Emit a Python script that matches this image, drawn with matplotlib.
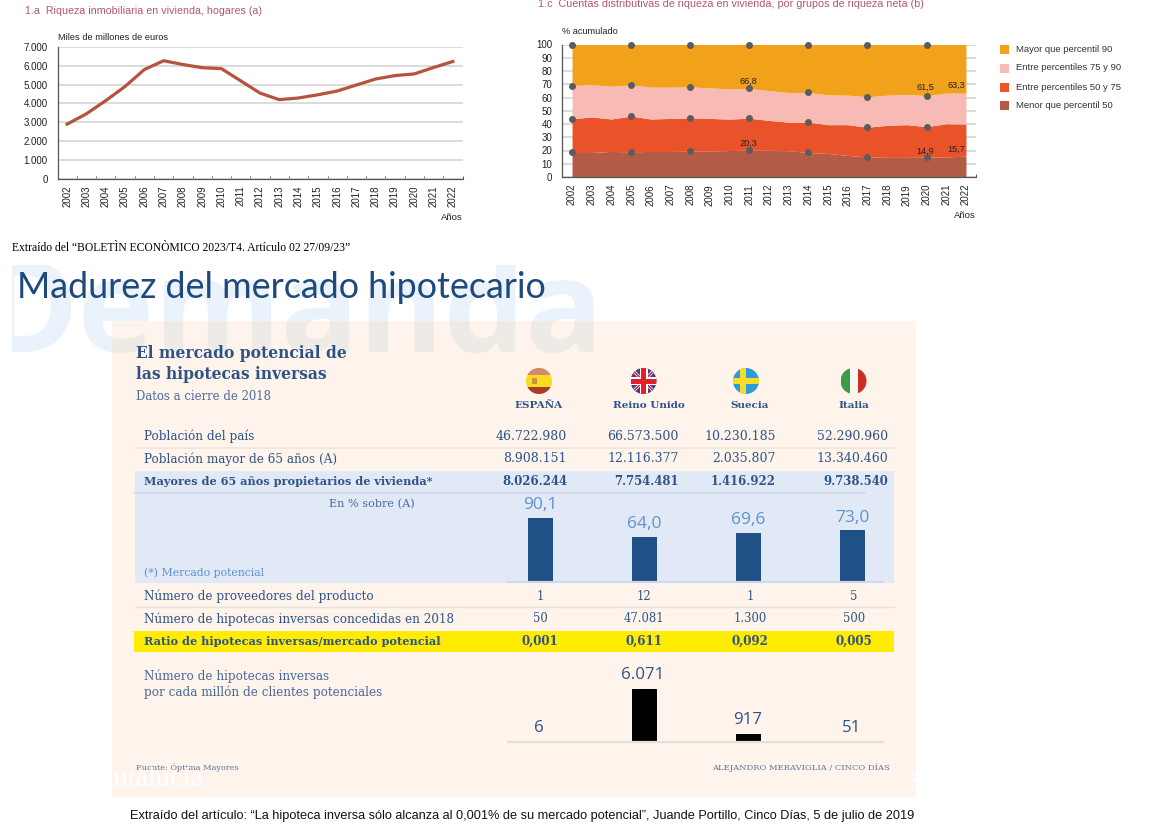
import matplotlib
matplotlib.use("Agg")
import matplotlib.pyplot as plt
from matplotlib.patches import Rectangle, Circle
from matplotlib.ticker import FuncFormatter

W, H = 1149, 827
SANS = "Liberation Sans"
SERIF = "DejaVu Serif"
HUM = "Open Sans"
NAVY = "#2F5488"
LBLUE = "#5E92CF"

years = [str(y) for y in range(2002, 2023)]
riqueza = [2900, 3450, 4150, 4900, 5800, 6270, 6070, 5900, 5850, 5200, 4550,
           4200, 4290, 4460, 4660, 4980, 5300, 5480, 5570, 5910, 6230]
p50 = [18.5, 18.5, 19.3, 19.0, 19.3, 19.2, 19.6, 19.6, 20.0, 20.3, 20.2,
       19.8, 18.5, 17.8, 16.3, 15.2, 14.8, 14.8, 14.9, 15.2, 15.7]
p75 = [44.0, 45.3, 43.8, 46.0, 43.8, 44.2, 44.7, 44.2, 43.7, 44.4, 42.7,
       41.4, 41.4, 39.5, 39.5, 37.6, 39.0, 39.5, 38.0, 40.2, 40.0]
p90 = [69.0, 69.7, 68.5, 69.5, 67.8, 67.8, 68.0, 67.3, 66.5, 66.8, 65.2,
       63.8, 63.8, 62.0, 61.8, 60.6, 61.8, 62.3, 61.5, 63.3, 63.3]
p100 = [100.0] * 21
legend_labels = ["Mayor que percentil 90", "Entre percentiles 75 y 90",
                 "Entre percentiles 50 y 75", "Menor que percentil 50"]
legend_colors = ["#F2A11B", "#F7BAB5", "#EA5329", "#B25C47"]

countries = ["ESPAÑA", "Reino Unido", "Suecia", "Italia"]
poblacion = ["46.722.980", "66.573.500", "10.230.185", "52.290.960"]
mayores = ["8.908.151", "12.116.377", "2.035.807", "13.340.460"]
propietarios = ["8.026.244", "7.754.481", "1.416.922", "9.738.540"]
mercado_pct = [90.1, 64.0, 69.6, 73.0]
proveedores = ["1", "12", "1", "5"]
concedidas = ["50", "47.081", "1.300", "500"]
ratio = ["0,001", "0,611", "0,092", "0,005"]
por_millon = [6, 6071, 917, 51]

fig = plt.figure(figsize=(W / 100, H / 100), dpi=100, facecolor="white")


def axes_px(l, t, r, b, z=2):
    ax = fig.add_axes([l / W, 1 - b / H, (r - l) / W, (b - t) / H], zorder=z)
    ax.patch.set_alpha(0)
    return ax


def full(z):
    ax = axes_px(0, 0, W, H, z)
    ax.set_xlim(0, W)
    ax.set_ylim(H, 0)
    ax.axis("off")
    return ax


bg = full(0)
fg = full(5)


def T(x, y, s, size=7, color="#222222", ha="left", va="center", family=SANS, ax=fg, **kw):
    return ax.text(x, y, s, fontsize=size, color=color, ha=ha, va=va, family=family, **kw)


def clipped(text, x, y, w, h, ax):
    text.set_clip_on(True)
    text.set_clip_path(Rectangle((x, y), w, h, transform=ax.transData))


# ---------- top charts ----------
def band_axis(ax, ymax, step, fmt):
    ax.set_xlim(-0.5, 20.5)
    ax.set_ylim(0, ymax)
    for s in ("top", "right"):
        ax.spines[s].set_visible(False)
    for s in ("left", "bottom"):
        ax.spines[s].set_color("#555555")
        ax.spines[s].set_linewidth(0.9)
    ax.set_xticks(range(21))
    ax.set_xticklabels(years, rotation=90, fontsize=7, family=SANS, color="#222222")
    ax.tick_params(axis="x", length=0, pad=5)
    ax.set_xticks([i - 0.5 for i in range(22)], minor=True)
    ax.tick_params(axis="x", which="minor", length=2.5, width=0.7, direction="in", color="#555555")
    ax.set_yticks(range(0, ymax + 1, step))
    ax.yaxis.set_major_formatter(FuncFormatter(fmt))
    ax.tick_params(axis="y", length=0, pad=7, labelsize=7, labelcolor="#222222")
    for lb in ax.get_yticklabels():
        lb.set_family(SANS)
    ax.grid(axis="y", color="#D9D9D9", lw=1.3)
    ax.set_axisbelow(True)


axa = axes_px(57.5, 47, 462.5, 178.7)
band_axis(axa, 7000, 1000, lambda v, p: f"{int(v):,}".replace(",", "."))
axa.plot(range(21), riqueza, color="#B5533C", lw=2.3, solid_joinstyle="round")
T(25, 11, "1.a  Riqueza inmobiliaria en vivienda, hogares (a)", 7.7, "#B4566E")
T(58, 37.5, "Miles de millones de euros", 6.7)
T(463, 217, "Años", 6.8, ha="right")

axc = axes_px(562.2, 44.5, 975.8, 177)
band_axis(axc, 100, 10, lambda v, p: f"{int(v)}")
xs = list(range(21))
axc.fill_between(xs, 0, p50, color=legend_colors[3], lw=0, zorder=2)
axc.fill_between(xs, p50, p75, color=legend_colors[2], lw=0, zorder=2)
axc.fill_between(xs, p75, p90, color=legend_colors[1], lw=0, zorder=2)
axc.fill_between(xs, p90, p100, color=legend_colors[0], lw=0, zorder=2)
idx = list(range(0, 21, 3))
for serie in (p50, p75, p90, p100):
    axc.plot(idx, [serie[i] for i in idx], ls="none", marker="o", ms=4.0,
             color="#5C5C5C", clip_on=False, zorder=3)
T(538, 4, "1.c  Cuentas distributivas de riqueza en vivienda, por grupos de riqueza neta (b)", 7.75, "#B4566E")
T(561.5, 32, "% acumulado", 6.6)
T(976, 215, "Años", 6.8, ha="right")
for x, y, s in [(748, 81, "66,8"), (748, 143, "20,3"), (925, 87, "61,5"),
                (925, 151, "14,9"), (956, 85, "63,3"), (956, 149, "15,7")]:
    T(x, y, s, 6.6, ha="center")
for y, lab, col in zip([49, 68, 87, 105], legend_labels, legend_colors):
    fg.add_patch(Rectangle((1000, y - 4.5), 9, 9, color=col, lw=0))
    T(1015.5, y, lab, 6.8, "#333333")

T(12, 248, "Extraído del “BOLETÌN ECONÒMICO 2023/T4. Artículo 02 27/09/23”", 8.4, "black", family="Liberation Serif")

# ---------- panel ----------
bg.add_patch(Rectangle((112, 321), 804, 476, color="#FEF4EC", lw=0, zorder=1))
t1 = T(-18, 352, "Demanda", 93, "#EAF2FB", va="baseline", family=HUM, ax=bg, fontweight="bold", zorder=0.5)
clipped(t1, 12, 265, 700, 90, bg)
t2 = T(-18, 352, "Demanda", 93, "#EEEBE7", va="baseline", family=HUM, ax=bg, fontweight="bold", zorder=1.5)
clipped(t2, 112, 321, 804, 40, bg)
T(17, 288, "Madurez del mercado hipotecario", 25.8, "#1F497D", family="Lato", ax=bg, zorder=2)

bg.add_patch(Rectangle((135, 471), 759, 112, color="#E1E9F6", lw=0, zorder=2))
bg.add_patch(Rectangle((134, 631), 760, 21, color="#FFEC00", lw=0, zorder=2))
bg.plot([135, 894], [448, 448], color="#EFE3DD", lw=1.2, zorder=2)
bg.plot([135, 865], [493, 493], color="#CFD8EC", lw=1.2, zorder=3)
bg.plot([135, 894], [607, 607], color="#E6E2DE", lw=1.0, zorder=2)

T(136, 353.5, "El mercado potencial de", 11.2, "#2C5286", family=SERIF, fontweight="bold")
T(136, 374.5, "las hipotecas inversas", 11.2, "#2C5286", family=SERIF, fontweight="bold")
T(136, 397, "Datos a cierre de 2018", 8.4, "#4A6A98", family=SERIF)

centers = [539, 649, 750, 854]
for x, c in zip(centers, countries):
    T(x, 405.5, c, 7.5, NAVY, ha="center", family=SERIF, fontweight="bold")

rights = [567, 679, 776, 888]
rows = [(436.5, "Población del país", poblacion, False),
        (459, "Población mayor de 65 años (A)", mayores, False),
        (481.5, "Mayores de 65 años propietarios de vivienda*", propietarios, True)]
for y, lab, vals, bold in rows:
    w = "bold" if bold else "normal"
    T(144, y, lab, 8.15 if bold else 8.65, NAVY, family=SERIF, fontweight=w)
    for x, v in zip(rights, vals):
        T(x, y, v, 8.4 if bold else 9.0, NAVY, ha="right", family=SERIF, fontweight=w)
T(372, 504, "En % sobre (A)", 8.1, "#4A6A98", ha="center", family=SERIF)
T(144, 572.5, "(*) Mercado potencial", 7.8, LBLUE, family=SERIF)

rows2 = [(596.5, "Número de proveedores del producto", proveedores, False),
         (619, "Número de hipotecas inversas concedidas en 2018", concedidas, False),
         (641.5, "Ratio de hipotecas inversas/mercado potencial", ratio, True)]
vc = [540, 644, 750, 854]
for y, lab, vals, bold in rows2:
    w = "bold" if bold else "normal"
    T(144, y, lab, 8.15 if bold else 8.65, NAVY, family=SERIF, fontweight=w)
    for x, v in zip(vc, vals):
        T(x, y, v, 8.6 if bold else 8.4, NAVY, ha="center", family=SERIF, fontweight=w)
T(144, 676, "Número de hipotecas inversas", 8.65, "#4A6A98", family=SERIF)
T(144, 692.5, "por cada millón de clientes potenciales", 8.65, "#4A6A98", family=SERIF)


def bars_axes(top, bottom, ymax, values, color, base_color):
    ax = axes_px(508, top, 883, bottom, 3)
    ax.set_xlim((508 - 540) / 104, (883 - 540) / 104)
    ax.set_ylim(0, ymax)
    ax.axis("off")
    ax.bar(range(4), values, width=25 / 104, color=color, lw=0)
    ax.plot([(508 - 540) / 104, (883 - 540) / 104], [0, 0], color=base_color, lw=1.6, clip_on=False, zorder=1)
    return ax


bars_axes(482, 582, 140.8, mercado_pct, "#1F5186", "#CFD8EC")
for x, y, v in zip([540, 644, 748, 852], [505, 523.5, 520, 518], mercado_pct):
    T(x, y, f"{v:.1f}".replace(".", ","), 12.5, LBLUE, ha="center", family=HUM)

bars_axes(682, 742, 6872, por_millon, "black", "#E5DFDA")
for x, y, v in zip([539, 643, 748, 852], [728, 675, 720, 728], por_millon):
    T(x, y, f"{v:,}".replace(",", "."), 12.2, NAVY, ha="center", family=HUM)

T(136, 767, "Fuente: Óptima Mayores", 5.9, "#5D7398", family=SERIF)
T(890, 767, "ALEJANDRO MERAVIGLIA / CINCO DÍAS", 6.0, "#5D7398", ha="right", family=SERIF)
t3 = T(85, 779, "Santalucía", 20.5, "white", family="Liberation Serif")
clipped(t3, 112, 321, 804, 476, fg)
t4 = T(908, 783, "S", 17, "white", family="Liberation Serif")
clipped(t4, 112, 321, 804, 476, fg)

T(130, 815.5, "Extraído del artículo: “La hipoteca inversa sólo alcanza al 0,001% de su mercado potencial”, Juande Portillo, Cinco Días, 5 de julio de 2019",
  9.2, "#111111")


# ---------- flags ----------
def flag(cx, cy, r, parts):
    clip = Circle((cx, cy), r, transform=bg.transData)
    for art in parts:
        if isinstance(art, Rectangle):
            bg.add_patch(art)
        else:
            bg.add_line(art)
        art.set_zorder(3)
        art.set_clip_path(clip)


R = Rectangle
cy, r = 381, 13
cx = 539
flag(cx, cy, r, [R((cx - r, cy - r), 2 * r, 2 * r, color="#F8DC1E", lw=0),
                 R((cx - r, cy - r), 2 * r, 7, color="#D08A70", lw=0),
                 R((cx - r, cy + 6), 2 * r, 7, color="#A93A2C", lw=0),
                 R((cx - 7, cy - 3), 5, 6, color="#C9923C", lw=0)])
cx = 643.5
flag(cx, cy, r, [R((cx - r, cy - r), 2 * r, 2 * r, color="#3D3F8F", lw=0),
                 plt.Line2D([cx - r, cx + r], [cy - r, cy + r], color="white", lw=2.2),
                 plt.Line2D([cx - r, cx + r], [cy + r, cy - r], color="white", lw=2.2),
                 plt.Line2D([cx - r, cx + r], [cy - r, cy + r], color="#E2202C", lw=1.2),
                 plt.Line2D([cx - r, cx + r], [cy + r, cy - r], color="#E2202C", lw=1.2),
                 R((cx - r, cy - 4), 2 * r, 8, color="white", lw=0),
                 R((cx - 4, cy - r), 8, 2 * r, color="white", lw=0),
                 R((cx - r, cy - 2.5), 2 * r, 5, color="#E2202C", lw=0),
                 R((cx - 2.5, cy - r), 5, 2 * r, color="#E2202C", lw=0)])
cx = 746
flag(cx, cy, r, [R((cx - r, cy - r), 2 * r, 2 * r, color="#2C9BD8", lw=0),
                 R((cx - r, cy - 3), 2 * r, 6, color="#F7DC2A", lw=0),
                 R((cx - 6, cy - r), 6, 2 * r, color="#F7DC2A", lw=0)])
cx = 853.5
flag(cx, cy, r, [R((cx - r, cy - r), 2 * r, 2 * r, color="#F6F6F2", lw=0),
                 R((cx - r, cy - r), 9, 2 * r, color="#3D9A46", lw=0),
                 R((cx + 4, cy - r), 9, 2 * r, color="#CE2B23", lw=0)])

fig.savefig("out.png", dpi=100, facecolor="white")
